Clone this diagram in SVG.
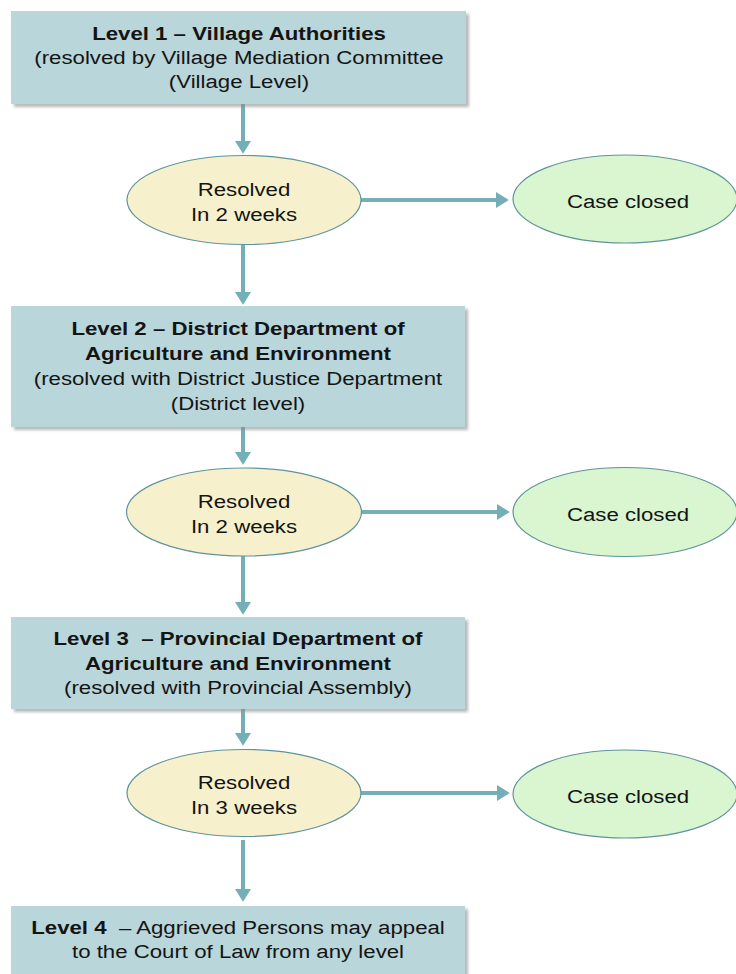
<svg xmlns="http://www.w3.org/2000/svg" width="736" height="974" viewBox="0 0 736 974">
<style>
.box{fill:#b9d6da;}
.shadow{fill:#8a8a8a;opacity:0.6;}
.res{fill:#f6f1cc;stroke:#5f949c;stroke-width:1.2;}
.closed{fill:#d9f6d0;stroke:#5f949c;stroke-width:1.2;}
.t{font-family:"Liberation Sans",Arial,sans-serif;font-size:19px;fill:#141414;text-anchor:middle;}
.b{font-weight:bold;}
.conn{stroke:#74aeb6;stroke-width:4;fill:none;}
</style>
<defs>
<filter id="blur" x="-5%" y="-5%" width="110%" height="110%"><feGaussianBlur stdDeviation="1.5"/></filter>
<marker id="ah" markerWidth="4" markerHeight="4" refX="2.5" refY="2" orient="auto" markerUnits="strokeWidth">
<path d="M0,0 L3.2,2 L0,4 Z" fill="#74aeb6"/>
</marker>
</defs>
<rect width="736" height="974" fill="#ffffff"/>

<g id="connectors">
<line class="conn" x1="243" y1="104" x2="243" y2="151" marker-end="url(#ah)"/>
<line class="conn" x1="243" y1="244" x2="243" y2="302" marker-end="url(#ah)"/>
<line class="conn" x1="361" y1="200" x2="506" y2="200" marker-end="url(#ah)"/>
<line class="conn" x1="243" y1="427" x2="243" y2="462" marker-end="url(#ah)"/>
<line class="conn" x1="243" y1="556" x2="243" y2="612" marker-end="url(#ah)"/>
<line class="conn" x1="362" y1="512" x2="507" y2="512" marker-end="url(#ah)"/>
<line class="conn" x1="243" y1="709" x2="243" y2="743" marker-end="url(#ah)"/>
<line class="conn" x1="243" y1="840" x2="243" y2="899" marker-end="url(#ah)"/>
<line class="conn" x1="361" y1="793" x2="507" y2="793" marker-end="url(#ah)"/>
</g>

<g id="level1">
<rect class="shadow" x="14" y="14" width="455" height="93" filter="url(#blur)"/>
<rect class="box" x="11" y="11" width="455" height="93"/>
<text class="t b" transform="matrix(1.17 0 0 1 239 0)" x="0" y="40">Level 1 – Village Authorities</text>
<text class="t" transform="matrix(1.17 0 0 1 239 0)" x="0" y="64">(resolved by Village Mediation Committee</text>
<text class="t" transform="matrix(1.17 0 0 1 239 0)" x="0" y="88">(Village Level)</text>
</g>

<g id="resolved1">
<ellipse class="res" cx="244" cy="200" rx="117" ry="44.5"/>
<text class="t" transform="matrix(1.17 0 0 1 244 0)" x="0" y="196">Resolved</text>
<text class="t" transform="matrix(1.17 0 0 1 244 0)" x="0" y="221">In 2 weeks</text>
</g>

<g id="closed1">
<ellipse class="closed" cx="625" cy="199" rx="112" ry="44"/>
<text class="t" transform="matrix(1.17 0 0 1 628 0)" x="0" y="208">Case closed</text>
</g>

<g id="level2">
<rect class="shadow" x="14" y="309" width="454" height="121" filter="url(#blur)"/>
<rect class="box" x="11" y="306" width="454" height="121"/>
<text class="t b" transform="matrix(1.17 0 0 1 238 0)" x="0" y="335">Level 2 – District Department of</text>
<text class="t b" transform="matrix(1.17 0 0 1 238 0)" x="0" y="360">Agriculture and Environment</text>
<text class="t" transform="matrix(1.17 0 0 1 238 0)" x="0" y="385">(resolved with District Justice Department</text>
<text class="t" transform="matrix(1.17 0 0 1 238 0)" x="0" y="410">(District level)</text>
</g>

<g id="resolved2">
<ellipse class="res" cx="244" cy="512" rx="117.5" ry="44"/>
<text class="t" transform="matrix(1.17 0 0 1 244 0)" x="0" y="508">Resolved</text>
<text class="t" transform="matrix(1.17 0 0 1 244 0)" x="0" y="533">In 2 weeks</text>
</g>

<g id="closed2">
<ellipse class="closed" cx="625" cy="512" rx="112" ry="44.5"/>
<text class="t" transform="matrix(1.17 0 0 1 628 0)" x="0" y="521">Case closed</text>
</g>

<g id="level3">
<rect class="shadow" x="14" y="620" width="454" height="92" filter="url(#blur)"/>
<rect class="box" x="11" y="617" width="454" height="92"/>
<text class="t b" transform="matrix(1.17 0 0 1 238 0)" x="0" y="645" xml:space="preserve">Level 3  – Provincial Department of</text>
<text class="t b" transform="matrix(1.17 0 0 1 238 0)" x="0" y="670">Agriculture and Environment</text>
<text class="t" transform="matrix(1.17 0 0 1 238 0)" x="0" y="694">(resolved with Provincial Assembly)</text>
</g>

<g id="resolved3">
<ellipse class="res" cx="244" cy="793" rx="117" ry="43.5"/>
<text class="t" transform="matrix(1.17 0 0 1 244 0)" x="0" y="789">Resolved</text>
<text class="t" transform="matrix(1.17 0 0 1 244 0)" x="0" y="814">In 3 weeks</text>
</g>

<g id="closed3">
<ellipse class="closed" cx="625" cy="794" rx="112" ry="44"/>
<text class="t" transform="matrix(1.17 0 0 1 628 0)" x="0" y="803">Case closed</text>
</g>

<g id="level4">
<rect class="shadow" x="14" y="909" width="454" height="70" filter="url(#blur)"/>
<rect class="box" x="11" y="906" width="454" height="70"/>
<text class="t" transform="matrix(1.17 0 0 1 238 0)" x="0" y="934" xml:space="preserve"><tspan class="b">Level 4 </tspan> – Aggrieved Persons may appeal</text>
<text class="t" transform="matrix(1.17 0 0 1 238 0)" x="0" y="958">to the Court of Law from any level</text>
</g>
</svg>
